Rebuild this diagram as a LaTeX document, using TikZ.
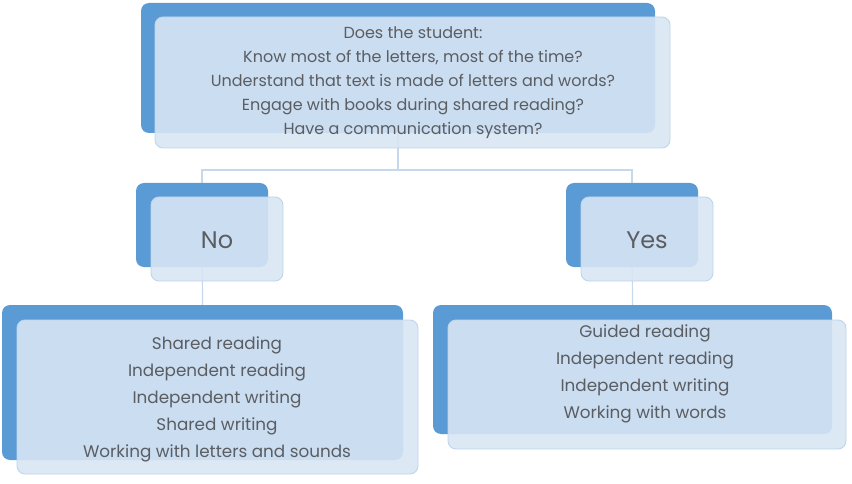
\documentclass[tikz,border=0pt]{standalone}
\usepackage{fontspec}
\setmainfont{Poppins}
\pgfdeclarelayer{bg}
\pgfsetlayers{bg,main}
\definecolor{darkbox}{HTML}{5B9BD5}
\definecolor{lightbox}{HTML}{D8E5F3}
\definecolor{lightedge}{HTML}{BFD5EC}
\definecolor{connline}{HTML}{C6D8EB}
\definecolor{txtgray}{HTML}{5A5D62}
\tikzset{
  backbox/.style={fill=darkbox, rounded corners=8pt, inner sep=0pt, draw=none},
  frontbox/.style={fill=lightbox, fill opacity=0.9, draw=lightedge, line width=0.9pt, rounded corners=8pt, inner sep=0pt},
  txt/.style={text=txtgray, align=center, inner sep=0pt},
  conn/.style={draw=connline, line width=1.2pt}
}
\begin{document}
\begin{tikzpicture}[x=1pt,y=-1pt]
\useasboundingbox (0,0) rectangle (852,484);
% top
\node[backbox, minimum width=514pt, minimum height=130pt] (topD) at (398,68) {};
\node[frontbox, minimum width=515pt, minimum height=131pt] (topL) at (412.5,82.5) {};
\node[txt, font=\fontsize{16}{24}\selectfont] (topT) at (413,82.5) {Does the student:\\Know most of the letters, most of the time?\\Understand that text is made of letters and words?\\Engage with books during shared reading?\\Have a communication system?};
% no / yes
\node[backbox, minimum width=132pt, minimum height=84pt] (noD) at (202,225) {};
\node[frontbox, minimum width=132pt, minimum height=84pt] (noL) at (217,239) {};
\node[txt, font=\fontsize{24}{28}\selectfont] (noT) at (217,240) {No};
\node[backbox, minimum width=132pt, minimum height=84pt] (yesD) at (632,225) {};
\node[frontbox, minimum width=132pt, minimum height=84pt] (yesL) at (647,239) {};
\node[txt, font=\fontsize{24}{28}\selectfont] (yesT) at (647,240) {Yes};
% bottom left
\node[backbox, minimum width=401pt, minimum height=155pt] (blD) at (202.5,382.5) {};
\node[frontbox, minimum width=401pt, minimum height=154pt] (blL) at (217.5,397) {};
\node[txt, font=\fontsize{16.8}{27}\selectfont] (blT) at (217,399.5) {Shared reading\\Independent reading\\Independent writing\\Shared writing\\Working with letters and sounds};
% bottom right
\node[backbox, minimum width=399pt, minimum height=129pt] (brD) at (632.5,369.5) {};
\node[frontbox, minimum width=398pt, minimum height=129pt] (brL) at (647,384.5) {};
\node[txt, font=\fontsize{16.8}{27}\selectfont] (brT) at (645,373.5) {Guided reading\\Independent reading\\Independent writing\\Working with words};
% connectors
\coordinate (jn) at (400,170);
\begin{pgfonlayer}{bg}
\draw[conn] (topD.center) -- (topD.center |- jn);
\draw[conn] (noD.center) -- (noD.center |- jn) -- (yesD.center |- jn) -- (yesD.center);
\draw[conn] (noD.center) -- (blD.center |- blD.north);
\draw[conn] (yesD.center) -- (brD.center |- brD.north);
\end{pgfonlayer}
\end{tikzpicture}
\end{document}
